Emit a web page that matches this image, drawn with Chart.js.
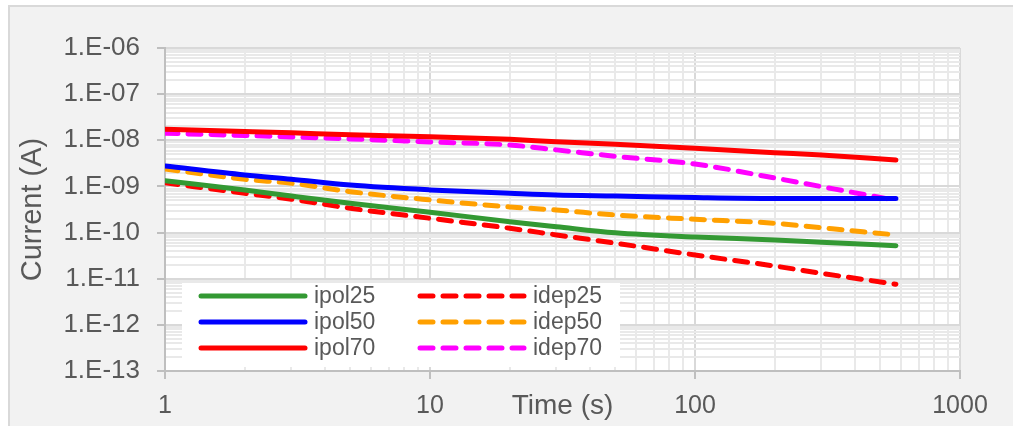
<!DOCTYPE html>
<html>
<head>
<meta charset="utf-8">
<script src="https://cdn.jsdelivr.net/npm/chart.js@4.4.1/dist/chart.umd.min.js"></script>
<style>
  html, body { margin: 0; padding: 0; background: #fff; }
  canvas { display: block; }
</style>
</head>
<body>
<canvas id="canvas" width="1013" height="426"></canvas>
<script>
// time points (s)
const times = [1, 2, 3, 5, 10, 20, 30, 50, 100, 200, 300, 573];

// currents (A)
const ipol25 = [1.33e-9, 8.4e-10, 6.2e-10, 4.3e-10, 2.76e-10, 1.72e-10, 1.34e-10, 9.9e-11, 8.0e-11, 6.9e-11, 6.15e-11, 5.2e-11];
const ipol50 = [2.77e-9, 1.77e-9, 1.43e-9, 1.07e-9, 8.4e-10, 7.1e-10, 6.5e-10, 6.2e-10, 5.75e-10, 5.5e-10, 5.5e-10, 5.5e-10];
const ipol70 = [1.73e-8, 1.55e-8, 1.45e-8, 1.32e-8, 1.20e-8, 1.05e-8, 9.3e-9, 8.2e-9, 6.7e-9, 5.4e-9, 4.8e-9, 3.74e-9];
const idep25 = [1.2e-9, 7.1e-10, 5.3e-10, 3.36e-10, 2.04e-10, 1.24e-10, 8.9e-11, 5.9e-11, 3.27e-11, 1.88e-11, 1.31e-11, 7.6e-12];
const idep50 = [2.39e-9, 1.43e-9, 1.17e-9, 7.7e-10, 5.1e-10, 3.6e-10, 3.08e-10, 2.4e-10, 1.94e-10, 1.59e-10, 1.27e-10, 8.9e-11];
const idep70 = [1.42e-8, 1.27e-8, 1.18e-8, 1.07e-8, 9.2e-9, 7.9e-9, 6.2e-9, 4.5e-9, 3.06e-9, 1.52e-9, 9.9e-10, 5.0e-10];

// tick labels
const xTickLabels = ['1', '10', '100', '1000'];
const yTickLabels = ['1.E-13', '1.E-12', '1.E-11', '1.E-10', '1.E-09', '1.E-08', '1.E-07', '1.E-06'];

const textColor = '#595959';
Chart.defaults.font.family = '"Liberation Sans", Arial, sans-serif';

const isMajor = v => Math.abs(Math.log10(v) - Math.round(Math.log10(v))) < 1e-6;

// 1..9 x 10^n grid ticks
function decadeTicks(fromExp, toExp) {
    const out = [];
    for (let e = fromExp; e < toExp; e++) {
        for (let s = 1; s <= 9; s++) out.push({ value: s * Math.pow(10, e) });
    }
    out.push({ value: Math.pow(10, toExp) });
    return out;
}

function series(label, values, color, dashed) {
    return {
        label: label,
        data: times.map((t, i) => ({ x: t, y: values[i] })),
        borderColor: color,
        backgroundColor: color,
        borderWidth: 5,
        borderDash: dashed ? [13, 10] : [],
        borderCapStyle: 'round',
        borderJoinStyle: 'round',
        pointRadius: 0,
        cubicInterpolationMode: 'monotone',
        fill: false
    };
}

const gridColor = ctx => (ctx.tick && isMajor(ctx.tick.value)) ? '#d9d9d9' : '#e9e9e9';
const tickColor = ctx => (ctx.tick && isMajor(ctx.tick.value)) ? '#bfbfbf' : 'rgba(0,0,0,0)';

const background = {
    id: 'background',
    beforeDraw(chart) {
        const { ctx, chartArea: a, width, height } = chart;
        ctx.save();
        ctx.fillStyle = '#fff';
        ctx.fillRect(0, 0, width, height);
        ctx.fillStyle = '#f2f2f2';
        ctx.fillRect(9, 6, width - 9, height - 6);
        ctx.strokeStyle = '#d9d9d9';
        ctx.lineWidth = 2;
        ctx.beginPath();
        ctx.moveTo(9, height);
        ctx.lineTo(9, 6);
        ctx.lineTo(width, 6);
        ctx.stroke();
        ctx.fillStyle = '#fff';
        ctx.fillRect(a.left, a.top, a.right - a.left, a.bottom - a.top);
        ctx.restore();
    }
};

// two-column legend inside the plot, bottom left
const legendBox = {
    id: 'legendBox',
    afterDatasetsDraw(chart) {
        const { ctx, chartArea: a } = chart;
        const x0 = a.left + 17, y0 = a.bottom - 88;
        ctx.save();
        ctx.fillStyle = '#fff';
        ctx.fillRect(x0, y0, 438, 84);
        ctx.font = '23px "Liberation Sans", Arial, sans-serif';
        ctx.textBaseline = 'middle';
        chart.data.datasets.forEach((ds, i) => {
            const col = Math.floor(i / 3), row = i % 3;
            const lx = x0 + 19 + col * 219, ly = y0 + 13 + row * 26;
            ctx.strokeStyle = ds.borderColor;
            ctx.lineWidth = ds.borderWidth;
            ctx.lineCap = 'round';
            ctx.setLineDash(ds.borderDash);
            ctx.beginPath();
            ctx.moveTo(lx, ly);
            ctx.lineTo(lx + 104, ly);
            ctx.stroke();
            ctx.setLineDash([]);
            ctx.fillStyle = textColor;
            ctx.fillText(ds.label, lx + 113, ly + 1);
        });
        ctx.restore();
    }
};

const ctx = document.getElementById('canvas').getContext('2d');

const myChart = new Chart(ctx, {
    type: 'line',
    data: {
        datasets: [
            series('ipol25', ipol25, '#339933', false),
            series('ipol50', ipol50, '#0000ff', false),
            series('ipol70', ipol70, '#ff0000', false),
            series('idep25', idep25, '#ff0000', true),
            series('idep50', idep50, '#ffa000', true),
            series('idep70', idep70, '#ff00ff', true)
        ]
    },
    options: {
        responsive: false,
        animation: false,
        devicePixelRatio: 1,
        layout: { padding: { top: 48, right: 53, bottom: 0, left: 0 } },
        plugins: {
            legend: { display: false },
            tooltip: { enabled: false }
        },
        scales: {
            x: {
                type: 'logarithmic',
                position: 'bottom',
                min: 1,
                max: 1000,
                afterBuildTicks: s => { s.ticks = decadeTicks(0, 3); },
                afterFit: s => { s.height = 55; },
                ticks: {
                    autoSkip: false,
                    minRotation: 0,
                    maxRotation: 0,
                    padding: 12,
                    color: textColor,
                    font: { size: 25 },
                    callback: v => isMajor(v) ? xTickLabels[Math.round(Math.log10(v))] : ''
                },
                grid: { color: gridColor, lineWidth: 2, tickLength: 8, tickColor: tickColor },
                border: { color: '#bfbfbf', width: 2 },
                title: {
                    display: true,
                    text: 'Time (s)',
                    color: textColor,
                    font: { size: 28 },
                    padding: { top: 0, bottom: 3 }
                }
            },
            y: {
                type: 'logarithmic',
                min: 1e-13,
                max: 1e-6,
                afterBuildTicks: s => { s.ticks = decadeTicks(-13, -6); },
                afterFit: s => { s.width = 165; },
                ticks: {
                    autoSkip: false,
                    padding: 17,
                    color: textColor,
                    font: { size: 26 },
                    callback: v => isMajor(v) ? yTickLabels[Math.round(Math.log10(v)) + 13] : ''
                },
                grid: { color: gridColor, lineWidth: 2, tickLength: 8, tickColor: tickColor },
                border: { color: '#bfbfbf', width: 2 },
                title: {
                    display: true,
                    text: 'Current (A)',
                    color: textColor,
                    font: { size: 29 },
                    padding: { top: 16, bottom: 0 }
                }
            }
        }
    },
    plugins: [background, legendBox]
});
</script>
</body>
</html>
